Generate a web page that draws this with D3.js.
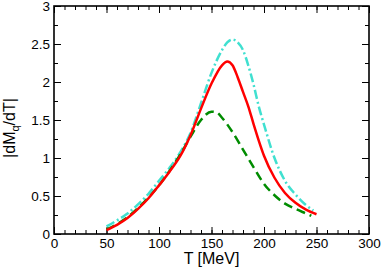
<!DOCTYPE html>
<html>
<head>
<meta charset="utf-8">
<script src="https://cdn.jsdelivr.net/npm/d3@7"></script>
<style>
  body { margin: 0; background: #fff; }
  svg text { font-family: "Liberation Sans", Arial, sans-serif; fill: #000; }
</style>
</head>
<body>
<div id="chart"></div>
<script>
const tRed = [50, 60, 70, 80, 90, 100, 110, 120, 130, 140, 150, 160, 165, 170, 175, 180, 185, 190, 195, 200, 210, 220, 230, 240, 250];
const vRed = [0.05, 0.12, 0.21, 0.33, 0.47, 0.64, 0.82, 1.02, 1.3, 1.65, 1.98, 2.22, 2.27, 2.22, 2.06, 1.87, 1.68, 1.45, 1.23, 1.03, 0.74, 0.54, 0.41, 0.32, 0.26];

const tGreen = [50, 60, 70, 80, 90, 100, 110, 120, 130, 140, 150, 155, 160, 170, 180, 190, 200, 210, 220, 230, 240, 245];
const vGreen = [0.06, 0.13, 0.22, 0.34, 0.48, 0.64, 0.83, 1.04, 1.28, 1.5, 1.61, 1.6, 1.53, 1.34, 1.11, 0.88, 0.66, 0.51, 0.4, 0.33, 0.27, 0.24];

const tCyan = [50, 60, 70, 80, 90, 100, 110, 120, 130, 140, 150, 160, 165, 170, 175, 180, 185, 190, 195, 200, 210, 220, 230, 240, 247];
const vCyan = [0.1, 0.18, 0.27, 0.39, 0.53, 0.7, 0.87, 1.07, 1.33, 1.72, 2.12, 2.42, 2.52, 2.56, 2.52, 2.42, 2.22, 1.97, 1.68, 1.44, 1.0, 0.7, 0.52, 0.38, 0.31];

const xTicks = [0, 50, 100, 150, 200, 250, 300];
const yTicks = [0, 0.5, 1, 1.5, 2, 2.5, 3];

const W = 382, H = 270;
const m = {left: 54, right: 13, top: 6, bottom: 36};

const svg = d3.select("#chart").append("svg").attr("width", W).attr("height", H);

const x = d3.scaleLinear().domain([0, 300]).range([m.left, W - m.right]);
const y = d3.scaleLinear().domain([0, 3]).range([H - m.bottom, m.top]);

const xMinor = d3.range(0, 301, 10);
const yMinor = d3.range(0, 3.01, 0.25);

function styleAxis(g) {
    g.select(".domain").remove();
    g.selectAll(".tick line").attr("stroke", "#000").attr("stroke-width", 1);
    g.selectAll("text").style("font-size", "13.5px");
}

// minor ticks, all four sides
svg.append("g").attr("transform", `translate(0,${y(0)})`)
    .call(d3.axisBottom(x).tickValues(xMinor).tickSize(-4).tickFormat("")).call(styleAxis);
svg.append("g").attr("transform", `translate(0,${y(3)})`)
    .call(d3.axisTop(x).tickValues(xMinor).tickSize(-4).tickFormat("")).call(styleAxis);
svg.append("g").attr("transform", `translate(${x(0)},0)`)
    .call(d3.axisLeft(y).tickValues(yMinor).tickSize(-4).tickFormat("")).call(styleAxis);
svg.append("g").attr("transform", `translate(${x(300)},0)`)
    .call(d3.axisRight(y).tickValues(yMinor).tickSize(-4).tickFormat("")).call(styleAxis);

// major ticks
svg.append("g").attr("transform", `translate(0,${y(0)})`)
    .call(d3.axisBottom(x).tickValues(xTicks).tickSize(-7).tickPadding(4).tickFormat(d3.format("d"))).call(styleAxis);
svg.append("g").attr("transform", `translate(0,${y(3)})`)
    .call(d3.axisTop(x).tickValues(xTicks).tickSize(-7).tickFormat("")).call(styleAxis);
svg.append("g").attr("transform", `translate(${x(0)},0)`)
    .call(d3.axisLeft(y).tickValues(yTicks).tickSize(-7).tickPadding(4).tickFormat(d => d3.format("")(d))).call(styleAxis);
svg.append("g").attr("transform", `translate(${x(300)},0)`)
    .call(d3.axisRight(y).tickValues(yTicks).tickSize(-7).tickFormat("")).call(styleAxis);

// frame
svg.append("rect")
    .attr("x", x(0)).attr("y", y(3))
    .attr("width", x(300) - x(0)).attr("height", y(0) - y(3))
    .attr("fill", "none").attr("stroke", "#000").attr("stroke-width", 1.6);

const line = d3.line().x(d => x(d[0])).y(d => y(d[1])).curve(d3.curveMonotoneX);

const series = [
    {t: tCyan, v: vCyan, color: "#40e0d0", dash: "9,3,2,3"},
    {t: tGreen, v: vGreen, color: "#008c00", dash: "9,5"},
    {t: tRed, v: vRed, color: "#ff0000", dash: null}
];

series.forEach(s => {
    svg.append("path")
        .datum(d3.zip(s.t, s.v))
        .attr("fill", "none")
        .attr("stroke", s.color)
        .attr("stroke-width", 2.5)
        .attr("stroke-dasharray", s.dash)
        .attr("d", line);
});

// axis titles
svg.append("text")
    .attr("x", (x(0) + x(300)) / 2).attr("y", 264)
    .attr("text-anchor", "middle")
    .style("font-size", "16px")
    .text("T [MeV]");

const yl = svg.append("text")
    .attr("transform", `translate(15,${128}) rotate(-90)`)
    .attr("text-anchor", "middle")
    .style("font-size", "16px");
yl.append("tspan").text("|dM");
yl.append("tspan").attr("dy", 4).style("font-size", "11px").text("q");
yl.append("tspan").attr("dy", -4).text("/dT|");
</script>
</body>
</html>
